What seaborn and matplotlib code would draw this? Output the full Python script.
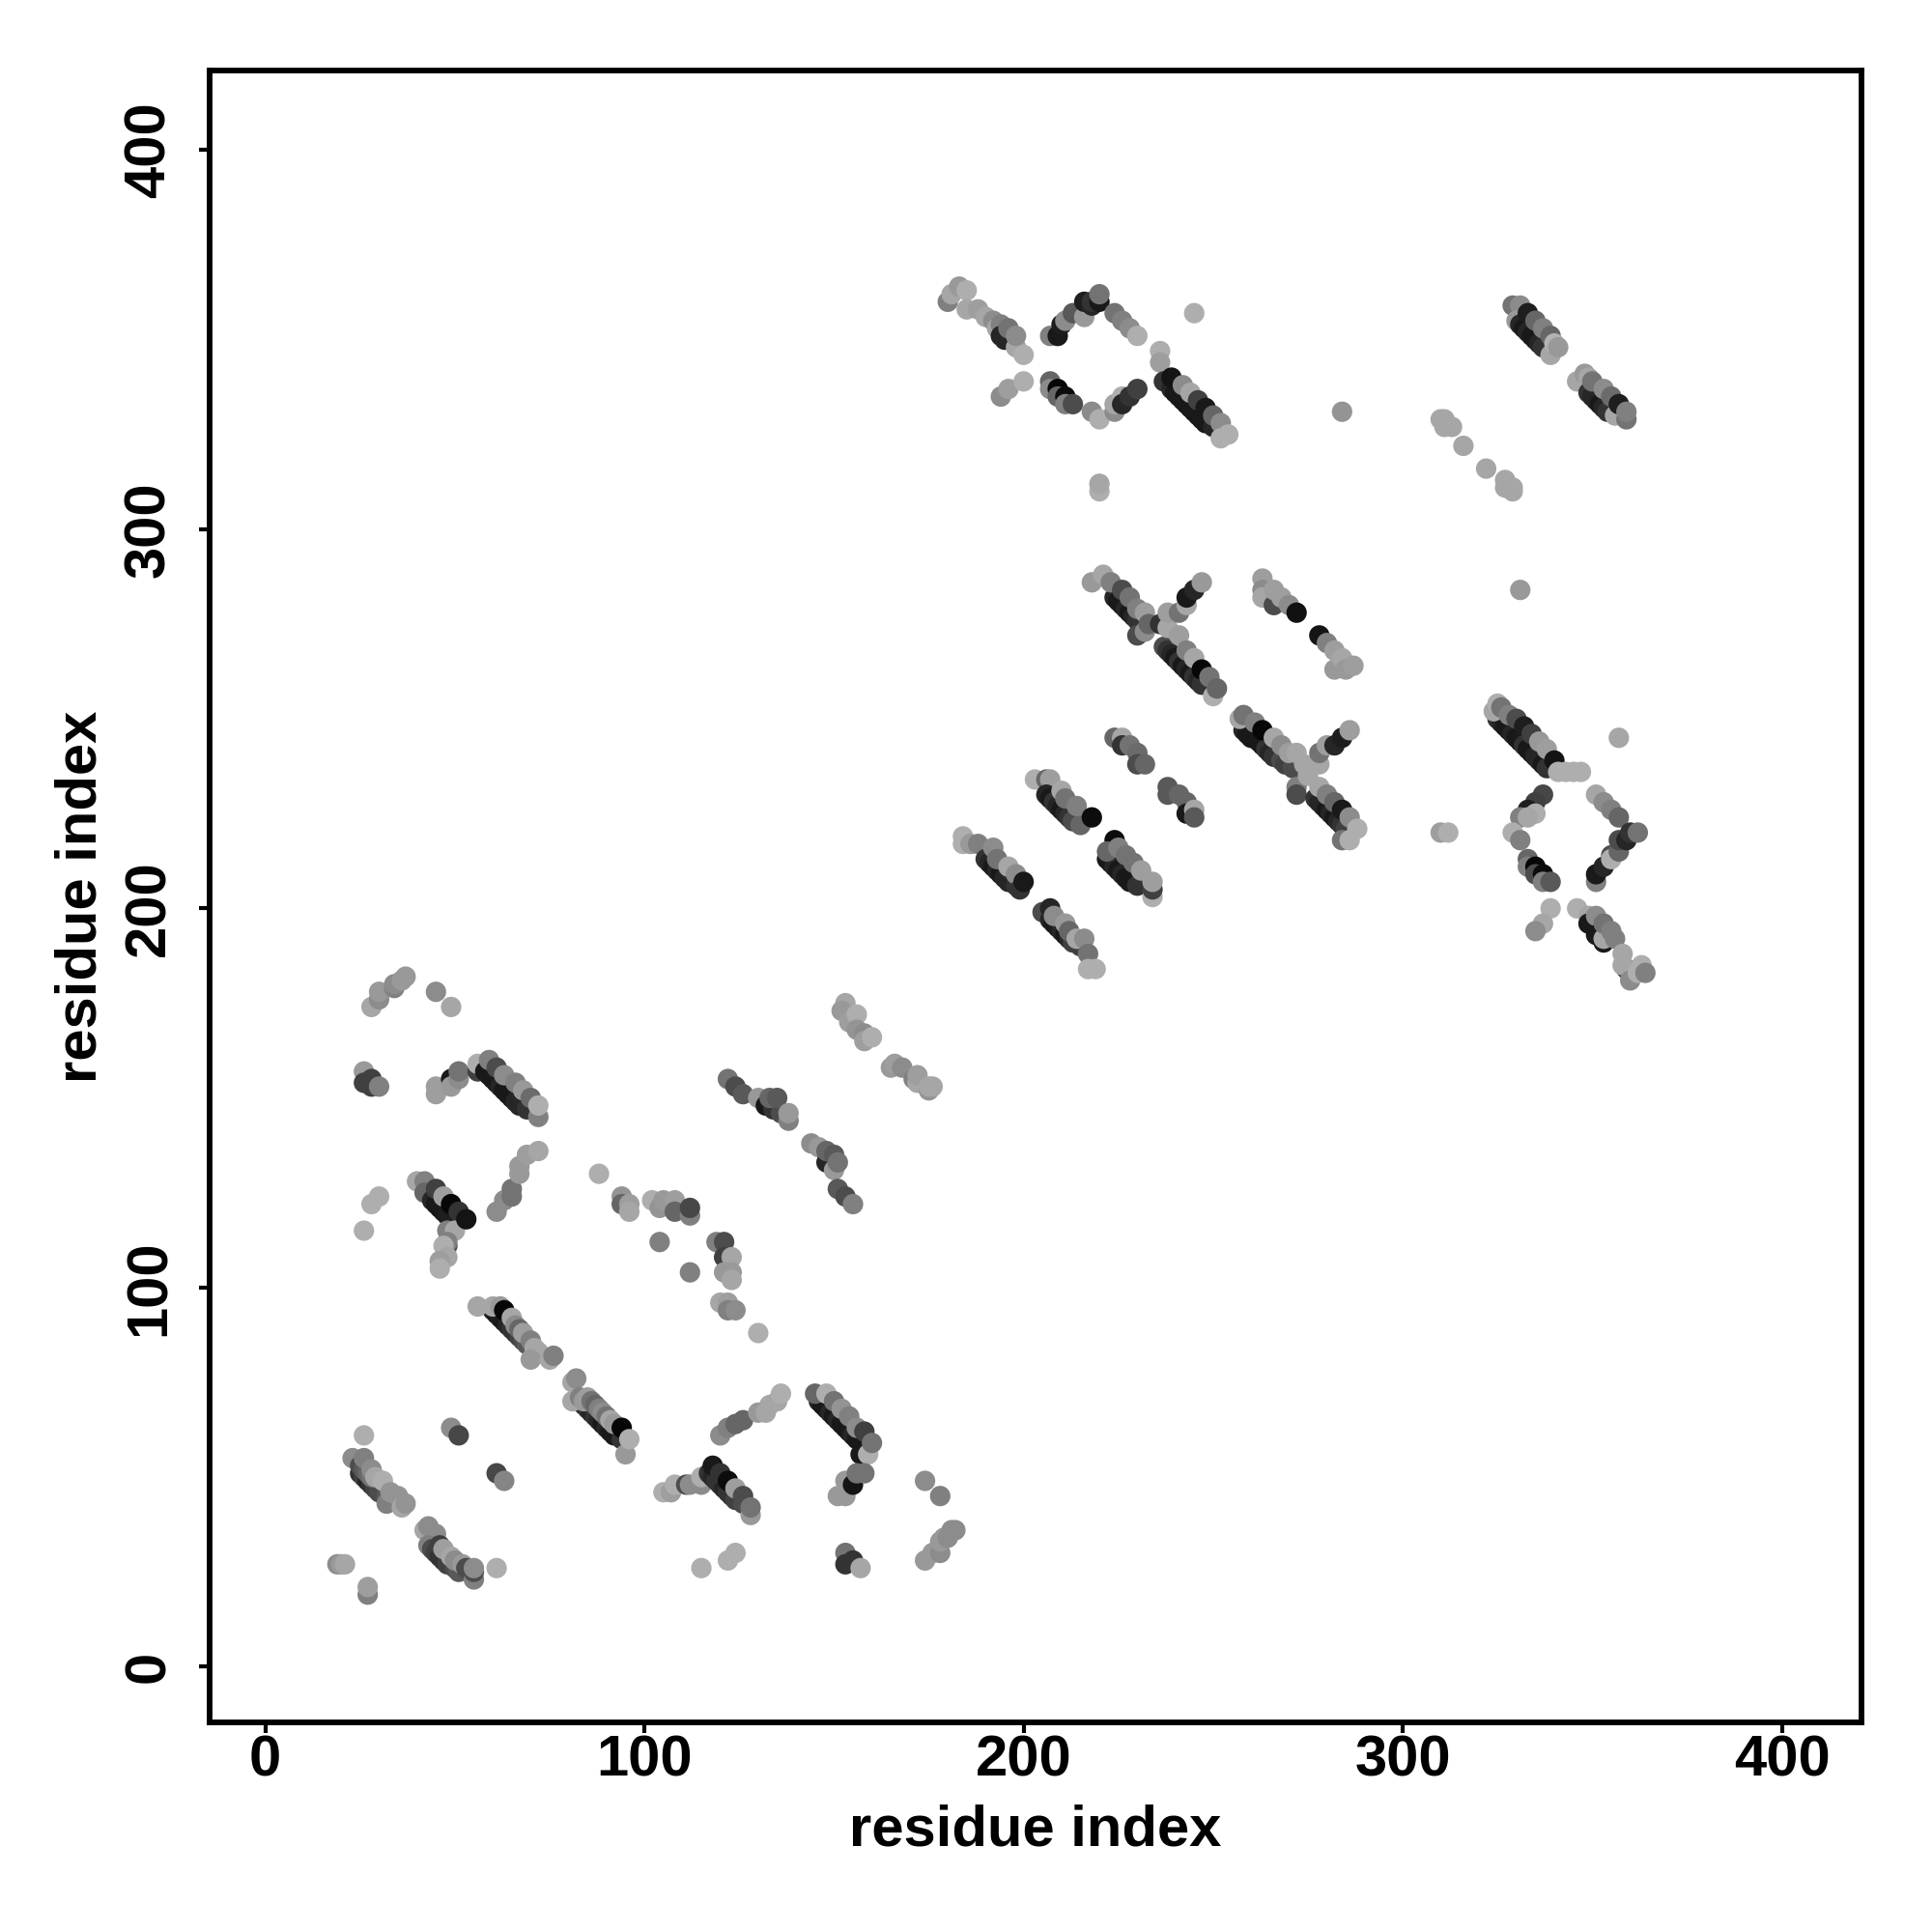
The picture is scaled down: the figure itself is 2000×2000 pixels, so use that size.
import matplotlib
matplotlib.use("Agg")
import matplotlib.pyplot as plt
import seaborn as sns
import pandas as pd

# contacts: (residue i, residue j, shade)
c01 = [(25,51,.2),(26,50,.25),(27,49,.15),(28,48,.2),(29,47,.25),(30,46,.3),(32,45,.35),(23,55,.55),(25,53,.3),(26,52,.35),(27,51,.4),(28,50,.45),(26,55,.5),(28,52,.55),(29,50,.65),(31,49,.68),(32,43,.5),(33,46,.58),(35,45,.58),(36,42,.65),(37,43,.58),(26,61,.68)]
c02 = [(42,36,.65),(43,37,.55),(45,35,.55),(43,32,.5),(44,31,.3),(45,30,.25),(46,29,.2),(47,28,.2),(48,27,.25),(50,26,.3),(51,25,.35),(46,32,.25),(47,31,.62),(49,29,.65),(50,28,.55),(52,27,.6),(53,26,.3),(55,23,.5),(55,25,.3),(55,26,.55),(61,26,.68)]
c03 = [(19,27,.55),(20,27,.6),(21,27,.65),(27,19,.5),(27,21,.62),(49,63,.55),(51,61,.28),(61,51,.28),(63,49,.52)]
c04 = [(60,94,.15),(61,93,.1),(62,92,.12),(63,91,.1),(64,90,.15),(65,89,.2),(66,88,.2),(67,87,.25),(68,86,.3),(69,85,.35),(56,95,.65),(60,95,.65),(62,95,.6),(63,94,.03),(65,92,.65),(66,90,.55),(67,89,.4),(68,88,.62),(70,86,.5),(71,84,.65),(72,83,.65),(70,81,.6),(75,81,.65),(76,82,.5)]
c05 = [(84,69,.2),(85,68,.2),(86,67,.15),(87,66,.2),(88,65,.15),(89,64,.1),(90,63,.15),(91,62,.1),(92,61,.1),(94,60,.2),(81,75,.65),(82,76,.55),(81,70,.65),(83,71,.5),(84,70,.6),(85,71,.62),(86,70,.45),(87,69,.4),(88,68,.5),(89,67,.55),(90,66,.45),(91,65,.65),(92,64,.6),(95,56,.6),(94,63,.03),(96,60,.68)]
c06 = [(105,46,.68),(107,46,.62),(108,48,.68),(111,48,.3),(112,48,.55),(115,48,.55),(115,50,.68),(117,51,.2),(118,50,.15),(119,49,.2),(120,48,.2),(121,47,.15),(122,46,.2),(123,45,.2),(124,44,.25),(126,43,.3),(128,40,.6),(118,53,.1),(120,51,.2),(122,49,.05),(124,47,.62),(126,45,.3),(128,42,.45),(115,26,.68),(122,28,.68),(124,30,.68)]
c07 = [(120,61,.55),(122,63,.5),(124,64,.4),(126,65,.4),(130,67,.6),(132,67,.65),(133,69,.65),(135,70,.65),(136,72,.68)]
c08 = [(146,70,.15),(147,69,.1),(148,68,.1),(149,67,.15),(150,66,.1),(151,65,.15),(152,64,.1),(153,63,.1),(154,62,.1),(155,61,.15),(156,60,.1),(157,56,.1),(145,72,.4),(148,72,.68),(150,70,.45),(152,68,.58),(154,66,.5),(156,63,.55),(158,62,.25),(159,56,.68),(160,59,.45),(151,45,.6),(153,45,.6),(153,49,.6),(155,48,.08),(156,51,.45),(158,51,.45)]
c09 = [(174,49,.55),(178,45,.5),(174,28,.6),(176,30,.6),(178,30,.55),(178,33,.6),(179,34,.6),(180,34,.55),(181,36,.55),(182,36,.55),(153,30,.45),(153,27,.2),(155,28,.2),(157,26,.65)]
c10 = [(28,174,.65),(30,176,.55),(30,178,.6),(34,179,.5),(34,180,.55),(37,182,.6),(36,181,.6),(45,178,.55),(49,174,.65),(26,157,.6),(26,154,.25),(28,155,.25),(28,153,.25),(30,153,.5)]
c11 = [(45,153,.62),(45,151,.62),(49,155,.1),(49,153,.6),(51,155,.55),(51,157,.45),(56,157,.25),(56,159,.68),(58,157,.1),(59,156,.1),(60,155,.1),(61,154,.1),(62,153,.15),(63,152,.1),(64,151,.1),(65,150,.1),(66,149,.15),(67,148,.15),(69,147,.2),(72,145,.5),(59,160,.5),(61,158,.3),(63,156,.55),(66,154,.5),(68,152,.6),(70,150,.42),(72,148,.68)]
c12 = [(40,128,.65),(42,128,.5),(42,125,.4),(44,123,.15),(45,122,.1),(46,121,.1),(47,120,.1),(48,119,.12),(45,126,.25),(47,124,.62),(49,122,.03),(51,120,.2),(48,115,.5),(50,115,.65),(53,118,.08),(48,111,.3),(48,112,.5),(47,111,.68),(48,108,.65),(46,107,.62),(46,105,.68)]
c13 = [(28,122,.68),(30,124,.68),(26,115,.68),(61,120,.55),(63,123,.55),(65,124,.45),(65,126,.45),(67,130,.6),(67,132,.6),(69,135,.62),(72,136,.65)]
c14 = [(88,130,.68),(94,124,.58),(94,122,.4),(96,122,.62),(96,120,.65),(102,123,.68),(104,121,.58),(105,123,.6),(108,123,.62),(108,120,.4),(112,119,.5),(112,121,.28),(104,112,.5),(112,104,.5)]
c15 = [(119,112,.5),(121,112,.3),(121,108,.25),(123,108,.65),(121,104,.6),(123,104,.6),(123,102,.65),(120,96,.65),(122,96,.62),(122,94,.5),(124,94,.55),(130,88,.68)]
c16 = [(122,155,.45),(124,153,.3),(126,151,.35),(130,150,.6),(132,148,.1),(134,147,.2),(136,146,.3),(133,150,.4),(135,150,.35),(138,144,.5),(138,146,.6)]
c17 = [(144,138,.55),(146,137,.6),(148,133,.15),(150,131,.6),(148,136,.4),(150,135,.35),(151,133,.45),(151,126,.35),(153,124,.3),(155,122,.5)]
c18 = [(153,175,.65),(152,173,.6),(154,170,.62),(156,172,.68),(156,168,.58),(158,167,.55),(158,165,.62),(160,166,.68),(165,158,.6),(166,159,.62),(168,158,.55),(171,155,.5),(172,154,.65),(172,156,.62),(175,152,.58),(175,153,.65),(176,153,.65)]
c19 = [(184,219,.68),(184,217,.68),(186,217,.6),(188,217,.5),(190,213,.2),(191,212,.15),(192,211,.1),(193,210,.15),(194,209,.1),(195,208,.15),(196,207,.15),(198,206,.2),(192,216,.55),(193,213,.45),(196,211,.65),(198,209,.55),(199,205,.2),(200,207,.1)]
c20 = [(205,199,.3),(207,200,.15),(207,197,.15),(208,196,.1),(209,195,.1),(210,194,.15),(211,193,.1),(212,192,.15),(213,191,.25),(215,190,.25),(208,198,.55),(211,196,.6),(212,194,.4),(214,192,.65),(216,192,.55),(217,188,.45),(217,184,.68),(219,184,.68)]
c21 = [(203,234,.68),(206,234,.4),(207,234,.62),(206,230,.15),(207,229,.1),(208,228,.2),(209,227,.15),(210,226,.1),(211,225,.15),(212,224,.2),(213,223,.3),(215,222,.4),(210,231,.65),(211,229,.45),(214,227,.5),(218,224,.05)]
c22 = [(224,218,.05),(222,213,.1),(223,212,.1),(224,211,.15),(225,210,.1),(226,209,.15),(227,208,.1),(228,207,.1),(230,206,.2),(222,215,.4),(225,216,.5),(227,214,.45),(229,212,.45),(231,210,.62),(234,203,.68),(234,205,.25),(234,207,.62)]
c23 = [(224,245,.4),(226,245,.65),(226,243,.2),(228,243,.45),(230,241,.42),(230,238,.3),(232,238,.4)]
c24 = [(238,232,.35),(238,230,.35),(241,230,.4),(243,228,.4),(243,225,.1),(245,226,.65),(245,224,.35)]
c25 = [(218,286,.6),(221,288,.65),(224,282,.15),(225,281,.1),(226,280,.1),(227,279,.15),(228,278,.1),(229,277,.15),(230,276,.2),(223,286,.5),(226,284,.3),(228,282,.45),(230,279,.5),(232,278,.62),(230,272,.3),(232,273,.55),(233,275,.4),(236,275,.2)]
c26 = [(237,269,.3),(238,268,.2),(239,267,.15),(240,266,.1),(241,265,.2),(242,264,.1),(243,263,.15),(244,262,.1),(245,261,.2),(246,260,.15),(247,259,.2),(250,256,.68),(238,274,.65),(241,272,.62),(243,268,.5),(245,266,.65),(247,263,.03),(249,261,.45),(251,258,.4)]
c27 = [(238,278,.62),(241,278,.45),(243,280,.65),(243,282,.1),(245,284,.15),(247,286,.6)]
c28 = [(263,287,.62),(263,284,.55),(263,282,.65),(266,280,.3),(266,284,.62),(268,282,.62),(270,280,.55),(272,278,.07),(278,272,.08),(280,270,.5),(282,263,.6),(282,268,.62),(284,266,.65),(285,263,.6),(287,264,.62)]
c29 = [(258,247,.15),(259,246,.1),(260,245,.1),(262,244,.1),(263,243,.1),(264,242,.2),(265,241,.15),(266,240,.2),(268,239,.3),(269,238,.25),(271,237,.3),(257,250,.65),(258,251,.45),(261,249,.5),(263,247,.03),(266,245,.65),(268,243,.55),(270,241,.62),(272,241,.65),(274,238,.65)]
c30 = [(272,232,.5),(272,230,.3),(277,229,.2),(278,228,.15),(279,227,.15),(280,226,.1),(281,225,.15),(282,224,.1),(283,223,.15),(284,222,.2),(285,221,.25),(284,218,.45),(286,218,.68),(275,235,.65),(278,232,.65),(280,230,.5),(282,228,.4),(284,226,.1),(286,224,.55),(288,221,.68)]
c31 = [(278,238,.65),(278,241,.45),(280,243,.62),(282,243,.15),(284,245,.12),(286,247,.62)]
c32 = [(180,360,.5),(181,362,.65),(183,364,.6),(185,363,.68),(185,358,.65),(188,358,.62),(190,356,.65),(192,355,.55),(193,353,.65),(194,354,.5),(194,351,.15),(195,350,.15),(196,353,.45),(198,348,.65),(198,351,.55),(200,346,.68)]
c33 = [(207,351,.5),(209,351,.1),(210,354,.12),(211,355,.55),(213,357,.35),(216,356,.6),(216,360,.12),(218,359,.15),(218,360,.2),(220,360,.1),(220,362,.45),(224,357,.45),(226,355,.5),(228,353,.55),(230,351,.68),(245,357,.68)]
c34 = [(236,347,.68),(236,344,.62),(237,339,.2),(239,337,.15),(240,336,.1),(241,335,.1),(242,334,.1),(243,333,.1),(244,332,.1),(245,331,.1),(246,330,.1),(247,329,.1),(248,328,.1),(250,327,.15),(239,340,.08),(242,338,.55),(244,336,.65),(246,334,.25),(248,332,.1),(250,330,.4),(252,328,.55),(252,324,.68),(254,325,.68)]
c35 = [(207,339,.4),(207,337,.55),(209,337,.03),(209,335,.4),(211,335,.05),(211,333,.5),(213,333,.3),(218,331,.55),(220,329,.68),(224,331,.55),(224,333,.65),(226,335,.68),(226,333,.15),(228,335,.2),(230,337,.25),(194,335,.55),(196,337,.62),(200,339,.68),(220,310,.68),(220,312,.65)]
c36 = [(329,359,.45),(331,359,.55),(330,355,.6),(331,354,.15),(332,353,.1),(333,352,.15),(334,351,.1),(335,350,.1),(336,349,.15),(337,348,.2),(333,357,.12),(335,355,.4),(337,353,.5),(339,351,.4),(339,346,.65),(340,349,.7),(341,348,.6)]
c37 = [(346,339,.65),(348,341,.6),(349,340,.65),(349,336,.2),(350,335,.15),(351,334,.15),(352,333,.1),(353,332,.15),(354,331,.2),(356,330,.65),(350,339,.45),(353,337,.55),(355,335,.42),(357,333,.12),(359,329,.45),(359,331,.5)]
c38 = [(310,329,.65),(311,329,.65),(311,327,.65),(313,327,.65),(316,322,.65),(322,316,.65),(327,313,.65),(327,311,.65),(329,311,.65),(329,310,.65),(284,331,.58),(331,284,.6),(357,245,.65),(310,220,.62),(312,220,.68)]
c39 = [(325,250,.2),(326,249,.15),(327,248,.1),(328,247,.1),(329,246,.15),(330,245,.1),(331,244,.1),(332,243,.2),(333,242,.1),(334,241,.1),(335,240,.15),(336,239,.15),(337,238,.1),(338,237,.2),(324,252,.65),(325,254,.68),(326,253,.45),(328,251,.5),(330,250,.3),(332,248,.12),(334,246,.25),(336,244,.6),(338,242,.62),(340,239,.08),(341,236,.68),(343,236,.68),(345,236,.68),(347,236,.68)]
c40 = [(337,230,.28),(335,228,.25),(333,226,.12),(335,225,.68),(331,224,.5),(333,224,.65),(329,220,.68),(331,218,.5),(333,213,.4),(333,211,.5),(335,211,.03),(335,209,.3),(337,209,.05),(337,207,.5),(339,207,.35)]
c41 = [(351,230,.65),(353,228,.55),(355,226,.5),(357,224,.4),(351,207,.5),(351,209,.1),(353,211,.15),(355,214,.3),(355,213,.68),(357,215,.4),(357,218,.3),(359,218,.15),(360,220,.2),(362,220,.45)]
c42 = [(339,200,.68),(337,196,.65),(335,194,.55),(346,200,.68),(349,198,.65),(349,196,.1),(351,198,.55),(351,193,.1),(353,191,.1),(353,192,.65),(353,196,.45),(355,194,.5),(356,192,.5),(358,188,.65),(359,184,.2),(358,185,.65),(360,181,.55),(362,183,.68),(363,185,.68),(364,183,.5)]

clusters = [c01,c02,c03,c04,c05,c06,c07,c08,c09,c10,c11,c12,c13,c14,c15,c16,c17,c18,c19,c20,c21,
            c22,c23,c24,c25,c26,c27,c28,c29,c30,c31,c32,c33,c34,c35,c36,c37,c38,c39,c40,c41,c42]
tick_vals = [0, 100, 200, 300, 400]

sns.set_theme(style="ticks")
plt.rcParams["font.family"] = ["Liberation Sans", "DejaVu Sans"]
rows = [t for c in clusters for t in c]
df = pd.DataFrame(rows, columns=["i", "j", "shade"])

fig = plt.figure(figsize=(10, 10), dpi=200)
ax = fig.add_axes([0.1085, 0.1085, 0.855, 0.855])
sns.scatterplot(data=df, x="i", y="j", hue="shade", palette="gray", hue_norm=(0, 1),
                s=58, linewidth=0, legend=False, ax=ax)
ax.set_xlim(-14.7, 421)
ax.set_ylim(-14.7, 421)
ax.set_xticks(tick_vals)
ax.set_yticks(tick_vals)
ax.tick_params(length=4, width=1.5, color="black", labelcolor="black", labelsize=21.5)
ax.tick_params(axis="x", pad=0.5)
ax.tick_params(axis="y", pad=8.5)
for lab in ax.get_xticklabels():
    lab.set_fontweight("bold")
for lab in ax.get_yticklabels():
    lab.set_fontweight("bold")
    lab.set_rotation(90)
    lab.set_va("center")
ax.set_xlabel("residue index", fontsize=21.5, fontweight="bold", labelpad=6, color="black")
ax.set_ylabel("residue index", fontsize=21.5, fontweight="bold", labelpad=5.5, color="black")
for sp in ax.spines.values():
    sp.set_visible(True)
    sp.set_linewidth(2.1)
    sp.set_color("black")
fig.savefig("out.png", dpi=200, facecolor="white")
